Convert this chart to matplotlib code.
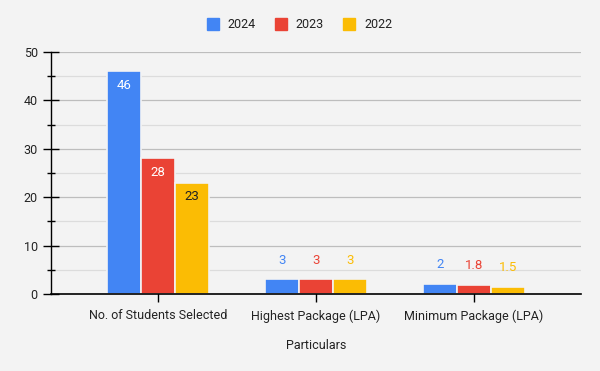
import matplotlib
matplotlib.use("Agg")
import matplotlib.pyplot as plt
from matplotlib.lines import Line2D
import numpy as np

plt.rcParams["font.family"] = ["Roboto", "DejaVu Sans"]

# data
categories = ["No. of Students Selected", "Highest Package (LPA)", "Minimum Package (LPA)"]
years = ["2024", "2023", "2022"]
values_2024 = [46, 3, 2]
values_2023 = [28, 3, 1.8]
values_2022 = [23, 3, 1.5]
colors = ["#4285f4", "#ea4335", "#fbbc04"]

series = [values_2024, values_2023, values_2022]

fig = plt.figure(figsize=(6, 3.71), dpi=100)
fig.patch.set_facecolor("#f3f3f3")
ax = fig.add_axes([0.085, 0.2075, 0.8833, 0.6523])
ax.set_facecolor("#f3f3f3")

x = np.arange(len(categories))
step = 0.215
for i, (vals, col, yr) in enumerate(zip(series, colors, years)):
    pos = x + (i - 1) * step
    bars = ax.bar(pos, vals, step, color=col, edgecolor="#f3f3f3", linewidth=1.2,
                  label=yr, zorder=2)
    for b, v in zip(bars, vals):
        txt = f"{v:g}"
        cx = b.get_x() + b.get_width() / 2
        if v > 10:
            tc = "#222222" if col == "#fbbc04" else "white"
            ax.annotate(txt, (cx, v), xytext=(0, -10), textcoords="offset points",
                        ha="center", va="center", fontsize=9.5, color=tc, zorder=4)
        else:
            ax.annotate(txt, (cx, v), xytext=(0, 14), textcoords="offset points",
                        ha="center", va="center", fontsize=9.5, color=col, zorder=4)

ax.set_xlim(-0.677, 2.677)
ax.set_ylim(0, 50)
ax.set_yticks([0, 10, 20, 30, 40, 50])
ax.set_yticks([5, 15, 25, 35, 45], minor=True)
ax.set_xticks(x)
ax.set_xticklabels(categories)

ax.grid(axis="y", which="major", color="#bdbdbd", linewidth=0.9, zorder=0)
ax.grid(axis="y", which="minor", color="#dcdcdc", linewidth=0.9, zorder=0)
ax.set_axisbelow(True)

for s in ["top", "right"]:
    ax.spines[s].set_visible(False)
ax.spines["left"].set_color("black")
ax.spines["bottom"].set_color("black")
ax.spines["bottom"].set_zorder(3)
ax.spines["left"].set_linewidth(1)
ax.spines["bottom"].set_linewidth(1.2)

ax.tick_params(axis="y", which="major", direction="inout", length=11, width=1,
               labelsize=9, colors="black", pad=4)
ax.tick_params(axis="y", which="minor", direction="inout", length=6, width=1)
ax.tick_params(axis="x", direction="inout", length=12, width=1, labelsize=9,
               pad=5, colors="black")
for lab in ax.get_xticklabels() + ax.get_yticklabels():
    lab.set_color("#222222")

ax.set_xlabel("Particulars", fontsize=9, color="#222222", labelpad=12)

# legend with square markers
handles = [Line2D([], [], marker="s", linestyle="none", markersize=9,
                  markerfacecolor=c, markeredgecolor=c) for c in colors]
fig.legend(handles, years, loc="center", bbox_to_anchor=(0.5, 0.933), ncol=3,
           frameon=False, fontsize=9, handlelength=0.8, handletextpad=0.8,
           columnspacing=1.6, labelcolor="#222222")

plt.savefig("out.png", dpi=100, facecolor=fig.get_facecolor())
